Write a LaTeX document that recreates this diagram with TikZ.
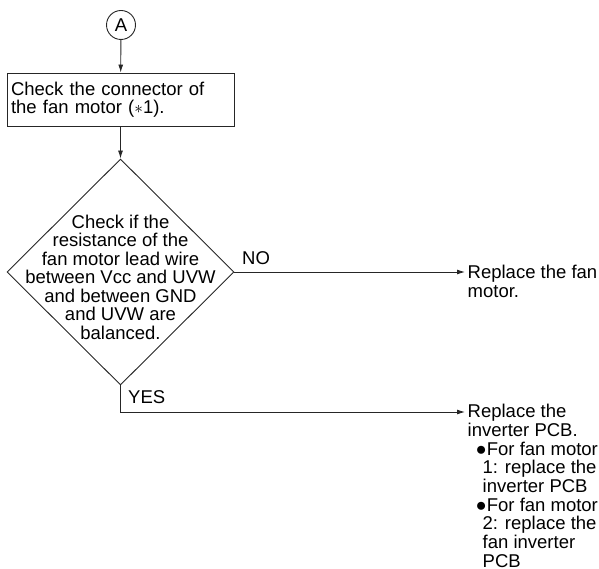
\documentclass[tikz,border=0pt]{standalone}
\usepackage{fontspec}
\setmainfont{Liberation Sans}
\usetikzlibrary{arrows.meta,shapes.geometric,positioning}

\tikzset{
    flow/.style={draw=black!85, line width=0.9pt},
    arr/.style={flow, -{Latex[length=8pt,width=5pt]}},
    txt/.style={font=\fontsize{18.5}{18.5}\selectfont, align=left, inner sep=0pt},
    lbl/.style={font=\fontsize{18.5}{18.5}\selectfont, inner sep=0pt},
}

\begin{document}
\begin{tikzpicture}[x=1pt,y=-1pt]
    \useasboundingbox (0,0) rectangle (599,569);

    % inicio y comprobacion del conector
    \node[flow, circle, minimum size=29pt, inner sep=0pt, lbl] (start) at (121,25) {A};
    \node[flow, rectangle, minimum width=227pt, minimum height=53pt,
          text width=219pt, inner xsep=4pt, txt, font=\fontsize{18.5}{18.2}\selectfont] (conn) at (120.5,99.5)
        {Check the connector of\\the fan motor ($\ast$1).};

    \node[flow, diamond, minimum width=227pt, minimum height=226pt, inner sep=0pt] (dec) at (120.5,272) {};
    \node[txt, align=center] (dectxt) at ([yshift=-5pt]dec.center)
        {Check if the\\resistance of the\\fan motor lead wire\\between Vcc and UVW\\and between GND\\and UVW are\\balanced.};

    \node[txt, anchor=north west] (repmotor) at (467.5,265) {Replace the fan\\motor.};
    \node[txt, anchor=north west, font=\fontsize{18.5}{18.7}\selectfont] (reppcb) at (467.5,404)
        {Replace the\\inverter PCB.\\
         \hspace*{8pt}●For fan motor\\\hspace*{15pt}1: replace the\\\hspace*{15pt}inverter PCB\\
         \hspace*{8pt}●For fan motor\\\hspace*{15pt}2: replace the\\\hspace*{15pt}fan inverter\\\hspace*{15pt}PCB};

    \coordinate (noend) at (465,272);
    \coordinate (yesend) at (465,412);

    \draw[arr] (start) -- (conn);
    \draw[arr] (conn) -- (dec.north);
    \draw[arr] (dec.east) -- (noend);
    \draw[arr] (dec.south) |- (yesend);

    \node[lbl, anchor=base west] (no) at (242,264.5) {NO};
    \node[lbl, anchor=base west] (yes) at (128,403.5) {YES};
\end{tikzpicture}
\end{document}
